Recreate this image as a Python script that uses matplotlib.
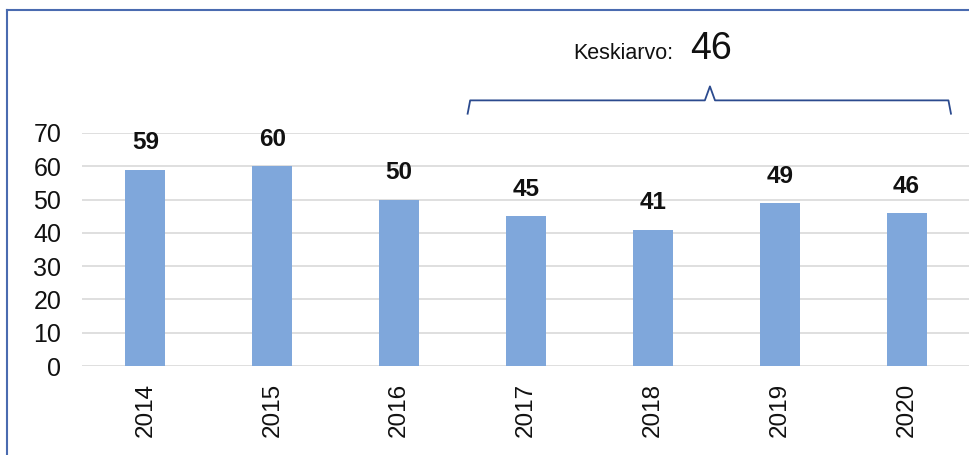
import numpy as np
import matplotlib.pyplot as plt
from matplotlib.lines import Line2D

plt.rcParams['font.family'] = ['Liberation Sans', 'DejaVu Sans']

years = ["2014", "2015", "2016", "2017", "2018", "2019", "2020"]
values = [59, 60, 50, 45, 41, 49, 46]
avg_label = "Keskiarvo:"
avg_value = 46

bar_color = "#7fa7db"
brace_color = "#2b4a8e"

fig = plt.figure(figsize=(9.7, 4.55), dpi=100)
ax = fig.add_axes([0.0845, 0.1956, 0.9155, 0.5121])

x = np.arange(len(years))
ax.bar(x, values, width=0.315, color=bar_color, zorder=3)

for xi, v in zip(x, values):
    ax.annotate(str(v), (xi, v), xytext=(0, 11), textcoords="offset points",
                ha="center", va="bottom", fontsize=17.5, fontweight="bold",
                color="#111111")

ax.set_xlim(-0.5, len(years) - 0.5)
ax.set_ylim(0, 70)
ax.set_yticks(range(0, 71, 10))
ax.set_xticks(x)
ax.set_xticklabels(years, rotation=90)
ax.tick_params(axis="y", length=0, pad=15, labelsize=18, colors="#111111")
ax.tick_params(axis="x", length=0, pad=12, labelsize=17.5, colors="#111111")
ax.grid(axis="y", color="#d9d9d9", linewidth=1.2, zorder=0)
for s in ax.spines.values():
    s.set_visible(False)

# brace over 2017-2020
x0, x1, xm = 2.54, 6.35, 4.45
yb, ytip, yend = 79.8, 84.0, 75.8
bx = [x0, x0 + 0.02, xm - 0.04, xm, xm + 0.04, x1 - 0.02, x1]
by = [yend, yb, yb, ytip, yb, yb, yend]
ax.plot(bx, by, color=brace_color, linewidth=1.3, clip_on=False,
        solid_joinstyle="round")

ax.text(xm - 0.29, 92.3, avg_label, ha="right", va="baseline",
        fontsize=15.5, color="#111111")
ax.text(xm - 0.16, 92.3, str(avg_value), ha="left", va="baseline",
        fontsize=27, color="#111111")

# outer frame (left and top edges)
fig.add_artist(Line2D([0.0075, 0.0075], [0, 0.979], color="#4a6bb0",
                      linewidth=1.5, transform=fig.transFigure))
fig.add_artist(Line2D([0.0075, 1.0], [0.979, 0.979], color="#4a6bb0",
                      linewidth=1.5, transform=fig.transFigure))

fig.savefig("out.png", dpi=100)
